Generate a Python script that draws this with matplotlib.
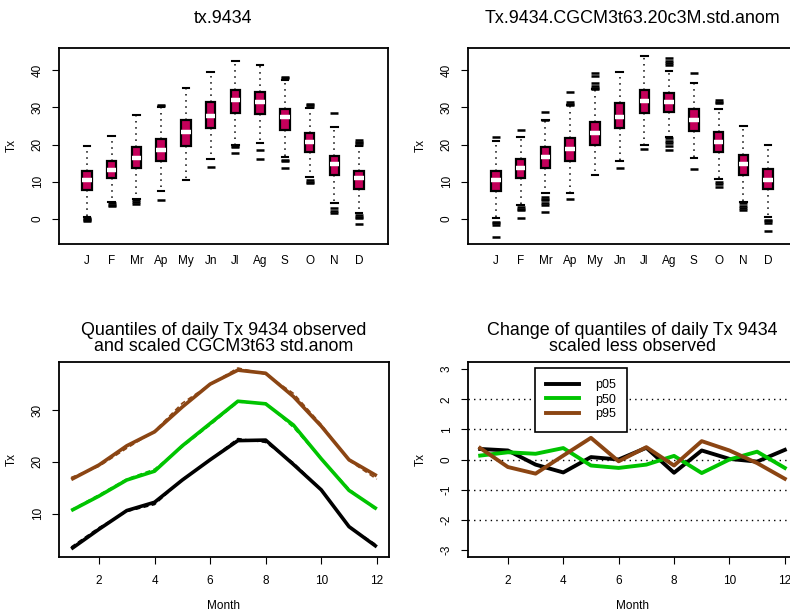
import matplotlib
matplotlib.use('Agg')
from matplotlib import pyplot as plt

plt.rcParams['font.family'] = ['Liberation Sans', 'DejaVu Sans']
plt.rcParams['axes.unicode_minus'] = False

months = ['J', 'F', 'Mr', 'Ap', 'My', 'Jn', 'Jl', 'Ag', 'S', 'O', 'N', 'D']
month_num = [1, 2, 3, 4, 5, 6, 7, 8, 9, 10, 11, 12]

# observed boxplot stats (tx.9434)
obs_lo = [0.6, 4.7, 5.5, 7.5, 10.6, 16.0, 19.9, 20.5, 16.6, 11.4, 4.4, 1.7]
obs_q1 = [7.8, 10.9, 13.6, 15.6, 19.6, 24.3, 28.5, 28.2, 23.9, 18.1, 11.8, 8.1]
obs_med = [10.6, 13.2, 16.5, 18.5, 23.4, 27.7, 31.9, 31.3, 27.3, 20.8, 14.7, 11.1]
obs_q3 = [12.9, 15.7, 19.4, 21.6, 26.6, 31.3, 34.5, 34.0, 29.5, 23.0, 17.0, 13.0]
obs_hi = [19.6, 22.3, 27.8, 30.0, 35.1, 39.4, 42.5, 41.3, 37.3, 29.8, 24.6, 19.6]
obs_fliers = [
    [0.2, -0.1, -0.3, -0.5],
    [4.2, 3.8, 3.5],
    [5.1, 4.6, 4.0],
    [30.3, 30.6, 5.1],
    [],
    [13.9],
    [19.5, 19.2, 17.8],
    [18.5, 16.0],
    [37.8, 38.1, 15.9, 15.5, 13.7],
    [30.2, 30.5, 30.8, 10.5, 10.0, 9.6],
    [28.4, 2.9, 2.2, 1.5],
    [19.8, 20.3, 20.8, 21.3, 1.1, 0.6, 0.2, -1.3],
]

# scaled GCM boxplot stats (Tx.9434.CGCM3t63.20c3M.std.anom)
gcm_lo = [0.4, 3.8, 6.9, 6.9, 11.8, 15.7, 19.9, 22.1, 16.5, 10.7, 4.5, 0.6]
gcm_q1 = [7.6, 10.9, 13.8, 15.6, 20.0, 24.3, 28.5, 28.8, 23.6, 17.9, 11.8, 8.0]
gcm_med = [10.6, 13.6, 16.7, 18.7, 23.0, 27.5, 31.8, 31.3, 26.6, 20.6, 14.8, 10.6]
gcm_q3 = [13.0, 16.0, 19.2, 21.7, 26.1, 31.1, 34.6, 33.7, 29.4, 23.3, 17.2, 13.3]
gcm_hi = [20.9, 21.9, 26.6, 30.6, 34.8, 39.4, 43.8, 39.6, 36.4, 29.5, 25.0, 20.0]
gcm_fliers = [
    [22.1, -0.7, -1.1, -1.6, -4.7],
    [23.9, 3.3, 2.8, 2.4, 0.2],
    [28.8, 26.6, 6.0, 5.5, 5.1, 4.3, 3.8, 2.0],
    [34.2, 31.5, 31.0, 30.6, 5.3],
    [39.1, 38.5, 36.4, 35.8, 35.2, 34.8],
    [13.6],
    [18.9],
    [43.1, 42.5, 41.9, 41.3, 21.7, 21.0, 20.3, 19.6, 18.5],
    [39.1, 13.4],
    [31.9, 31.5, 31.1, 10.0, 9.4, 8.7],
    [4.2, 3.6, 3.0, 2.4],
    [-0.3, -0.6, -1.0, -3.2],
]

# observed quantiles by month
p05_obs = [3.2, 7.0, 10.6, 12.2, 16.5, 20.4, 24.1, 24.2, 19.5, 14.6, 7.5, 3.6]
p50_obs = [10.6, 13.4, 16.5, 18.2, 23.1, 27.4, 31.7, 31.2, 27.1, 20.6, 14.5, 10.9]
p95_obs = [16.6, 19.4, 23.1, 25.8, 30.6, 35.0, 37.7, 37.1, 32.6, 26.9, 20.4, 17.3]

# change (scaled less observed)
p05_chg = [0.35, 0.30, -0.17, -0.43, 0.08, 0.0, 0.39, -0.44, 0.30, 0.02, -0.07, 0.32]
p50_chg = [0.13, 0.24, 0.19, 0.38, -0.20, -0.28, -0.17, 0.12, -0.45, 0.0, 0.26, -0.28]
p95_chg = [0.38, -0.25, -0.47, 0.13, 0.72, -0.06, 0.41, -0.20, 0.61, 0.30, -0.12, -0.64]

box_col = '#C4005A'
green = '#00C400'
brown = '#8B4513'
W, H = 790, 612
tick_fs = 8.5
title_fs = 12.9


def ax_at(x0, y0, x1, y1):
    return fig.add_axes([x0 / W, 1 - y1 / H, (x1 - x0) / W, (y1 - y0) / H])


def style(ax):
    for s in ax.spines.values():
        s.set_linewidth(1.3)
    ax.tick_params(labelsize=tick_fs, length=5, width=0.8)
    ax.tick_params(axis='y', pad=6)
    for lab in ax.get_yticklabels():
        lab.set_rotation(90)
        lab.set_va('center')


def boxpanel(ax, lo, q1, med, q3, hi, fliers, title):
    stats = []
    for i in range(12):
        stats.append(dict(whislo=lo[i], q1=q1[i], med=med[i], q3=q3[i],
                          whishi=hi[i], fliers=fliers[i]))
    ax.bxp(stats, positions=month_num, widths=0.38, capwidths=0.26,
           patch_artist=True,
           boxprops=dict(facecolor=box_col, edgecolor='black', linewidth=1.6),
           medianprops=dict(color='white', linewidth=3.2),
           whiskerprops=dict(color='black', linestyle=(0, (1, 3)), linewidth=1.1),
           capprops=dict(color='black', linewidth=1.5),
           flierprops=dict(marker='_', markersize=6, markeredgewidth=1.8,
                           markeredgecolor='black'))
    ax.set_xlim(-0.13, 13.17)
    ax.set_ylim(-6.7, 45.9)
    ax.set_xticks(month_num)
    ax.set_xticklabels(months)
    ax.set_yticks([0, 10, 20, 30, 40])
    ax.set_ylabel('Tx', fontsize=tick_fs, labelpad=10)
    style(ax)
    ax.tick_params(axis='x', length=0, pad=8)
    ax.text(0.5, 1.153, title, transform=ax.transAxes, ha='center', va='center',
            fontsize=title_fs)


fig = plt.figure(figsize=(7.9, 6.12), dpi=100)

ax1 = ax_at(59, 48, 388, 244)
boxpanel(ax1, obs_lo, obs_q1, obs_med, obs_q3, obs_hi, obs_fliers, 'tx.9434')

ax2 = ax_at(468, 48, 797, 244)
boxpanel(ax2, gcm_lo, gcm_q1, gcm_med, gcm_q3, gcm_hi, gcm_fliers,
         'Tx.9434.CGCM3t63.20c3M.std.anom')

# quantiles observed and scaled
ax3 = ax_at(59, 362, 389, 557)
for obs, chg, col in [(p05_obs, p05_chg, 'black'), (p50_obs, p50_chg, green),
                      (p95_obs, p95_chg, brown)]:
    scaled = [o + c for o, c in zip(obs, chg)]
    ax3.plot(month_num, obs, color=col, lw=2.6, solid_capstyle='butt')
    ax3.plot(month_num, scaled, color=col, lw=1.2, linestyle=(0, (3, 2)))
ax3.set_xlim(0.56, 12.44)
ax3.set_ylim(1.64, 39.27)
ax3.set_xticks([2, 4, 6, 8, 10, 12])
ax3.set_yticks([10, 20, 30])
ax3.set_xlabel('Month', fontsize=tick_fs, labelpad=9)
ax3.set_ylabel('Tx', fontsize=tick_fs, labelpad=10)
style(ax3)
ax3.tick_params(axis='x', pad=8)
ax3.text(0.5, 1.12, 'Quantiles of daily Tx 9434 observed\nand scaled CGCM3t63 std.anom',
         transform=ax3.transAxes, ha='center', va='center', fontsize=title_fs,
         linespacing=0.95)

# change of quantiles
ax4 = ax_at(468, 362, 797, 557)
for yv in [-2, -1, 0, 1, 2]:
    ax4.axhline(yv, color='black', lw=1.0, linestyle=(0, (1, 3)), zorder=1)
ax4.plot(month_num, p05_chg, color='black', lw=2.8, label='p05', zorder=3)
ax4.plot(month_num, p50_chg, color=green, lw=2.8, label='p50', zorder=3)
ax4.plot(month_num, p95_chg, color=brown, lw=2.8, label='p95', zorder=3)
ax4.set_xlim(0.56, 12.44)
ax4.set_ylim(-3.24, 3.24)
ax4.set_xticks([2, 4, 6, 8, 10, 12])
ax4.set_yticks([-3, -2, -1, 0, 1, 2, 3])
ax4.set_xlabel('Month', fontsize=tick_fs, labelpad=9)
ax4.set_ylabel('Tx', fontsize=tick_fs, labelpad=10)
style(ax4)
ax4.tick_params(axis='x', pad=8)
leg = ax4.legend(loc='upper left', bbox_to_anchor=(0.204, 0.969), fontsize=9,
                 fancybox=False, framealpha=1, edgecolor='black', handlelength=2.6,
                 handletextpad=1.3, labelspacing=0.2, borderpad=0.9, borderaxespad=0)
leg.get_frame().set_linewidth(1.2)
leg.set_zorder(5)
ax4.text(0.5, 1.12, 'Change of quantiles of daily Tx 9434\nscaled less observed',
         transform=ax4.transAxes, ha='center', va='center', fontsize=title_fs,
         linespacing=0.95)

plt.savefig('out.png', dpi=100)
